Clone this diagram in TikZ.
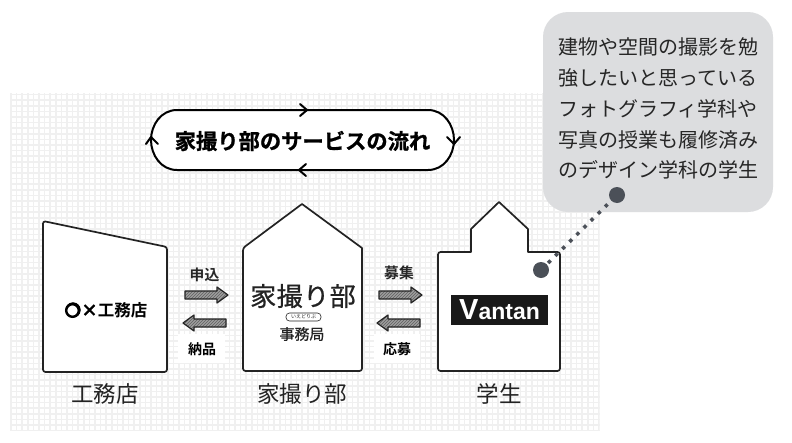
\documentclass[tikz,border=0pt]{standalone}
\usepackage{fontspec}
\setmainfont{Noto Sans CJK JP}
\newfontfamily\jpbold{Noto Sans CJK JP Bold}
\newfontfamily\jptitle[FakeBold=1]{Noto Sans CJK JP Bold}
\newfontfamily\jpheavy[FakeBold=2.5]{Noto Sans CJK JP Bold}
\newfontfamily\jpmed[FakeBold=0.7]{Noto Sans CJK JP}
\newfontfamily\lat{Liberation Sans}
\usetikzlibrary{arrows.meta,patterns}
\definecolor{gridc}{RGB}{240,240,240}
\definecolor{inkc}{RGB}{35,35,35}
\definecolor{bubblec}{RGB}{220,221,223}
\definecolor{dotc}{RGB}{75,80,88}
\definecolor{hatchc}{RGB}{95,95,95}
\tikzset{
  x=1pt,y=-1pt,
  bldg/.style={draw=inkc,fill=white,line width=1.7pt,line join=round},
  lbl/.style={font=\fontsize{22.5}{22.5}\selectfont,text=inkc,inner sep=0pt},
  small/.style={font=\jpbold\fontsize{14}{14}\selectfont,text=black,inner sep=0pt},
  smalltop/.style={font=\jpbold\fontsize{14.8}{14.8}\selectfont,text=black!85,inner sep=0pt},
  flow/.style={draw=inkc,line width=1.2pt,line join=round,preaction={fill=black!38},pattern=north east lines,pattern color=hatchc},
  loopln/.style={draw=black,line width=2pt},
  tick/.style={draw=black,line width=2pt,line cap=round,line join=round},
}
\begin{document}
\begin{tikzpicture}
\useasboundingbox (0,0) rectangle (792,442);
\fill[white] (0,0) rectangle (792,442);
% grid
\begin{scope}
\clip (10,93) rectangle (599.5,430.5);
\foreach \i in {0,...,106} \draw[gridc,line width=1.6pt] ({11+5.6*\i},93) -- ({11+5.6*\i},431);
\foreach \i in {0,...,61} \draw[gridc,line width=1.6pt] (10,{94.5+5.6*\i}) -- (600,{94.5+5.6*\i});
\end{scope}
% title loop
\coordinate (lt) at (177,110);
\coordinate (rt) at (428,110);
\coordinate (rb) at (428,170);
\coordinate (lb) at (177,170);
\draw[loopln,fill=white] (lt) -- (rt) .. controls (444,110) and (454,125) .. (454,140) .. controls (454,155) and (444,170) .. (rb) -- (lb) .. controls (161,170) and (151,155) .. (151,140) .. controls (151,125) and (161,110) .. (lt) -- cycle;
\draw[tick] (300,104) -- (307,110) -- (300,116);
\draw[tick] (306,164) -- (299,170) -- (306,176);
\draw[tick] (447,137) -- (454,144) -- (460,137);
\draw[tick] (146,144) -- (151,137) -- (158,144);
\node[font=\jptitle\fontsize{21.3}{21.3}\selectfont,inner sep=0pt,text=black] (title) at (302.5,141) {家撮り部のサービスの流れ};
% buildings
\path[bldg,rounded corners=2.5pt] (43,221) -- (167,247) -- (167,372) -- (43,372) -- cycle;
\node (koumu) at (106,310) [inner sep=0pt,font=\jpheavy\fontsize{16.5}{16.5}\selectfont] {○×{\jpbold 工務店}};
\coordinate (ring) at (72.5,310.5);
\draw[black,line width=2.4pt] (ring) circle (6.3);
\node[lbl] (l1) at (105,394) {工務店};
\path[bldg] (302,204) -- (362,248) [rounded corners=2.5pt] -- (362,371) -- (243,371) -- (243,248) [sharp corners] -- cycle;
\node[inner sep=0pt,font=\jpmed\fontsize{26}{26}\selectfont,text=inkc] (ie) at (303,296) {家\hspace{0.5pt}撮\hspace{0.5pt}り\hspace{0.5pt}部};
\draw[inkc,line width=.6pt,rounded corners=3.5pt] (286,313) rectangle (321,321);
\node[inner sep=0pt,font=\fontsize{5}{5}\selectfont,text=inkc] (iedo) at (303.5,317) {いえどりぶ};
\node[inner sep=0pt,font=\jpmed\fontsize{15}{15}\selectfont,text=inkc] (jimu) at (302,334) {事務局};
\node[lbl] (l2) at (302,394) {家撮り部};
\path[bldg] (499,202) -- (528,229) -- (528,252) [rounded corners=2.5pt] -- (560,252) -- (560,371) -- (438,371) -- (438,252) [sharp corners] -- (471,252) -- (471,229) -- cycle;
\node[fill=black!90,text=white,inner sep=0pt,minimum width=97pt,minimum height=30pt] (van) at (499.5,310) {\lat\bfseries{\fontsize{29}{29}\selectfont V}\fontsize{23}{23}\selectfont antan};
\node[lbl] (l3) at (499,394) {学生};
% flow arrows
\foreach \dx in {0,194}{
\path[flow] ({185+\dx},291) -- ({217+\dx},291) -- ({217+\dx},287) -- ({228+\dx},295) -- ({217+\dx},303) -- ({217+\dx},299) -- ({185+\dx},299) -- cycle;
\path[flow] ({226+\dx},319) -- ({194+\dx},319) -- ({194+\dx},315) -- ({183+\dx},323) -- ({194+\dx},331) -- ({194+\dx},327) -- ({226+\dx},327) -- cycle;
}
\node[smalltop] (a1) at (204.5,275) {申込};
\fill[white] (178,334) rectangle (225,363);
\node[small] (a2) at (202,349) {納品};
\node[smalltop] (a3) at (399,273) {募集};
\fill[white] (374,334) rectangle (420,363);
\node[small] (a4) at (397,349) {応募};
% bubble
\fill[bubblec,rounded corners=25pt] (543,12) rectangle (773,212);
\coordinate (dota) at (541,270);
\coordinate (dotb) at (617,195);
\draw[dotc,line width=3.5pt,dash pattern=on 3.5pt off 6.5pt] (dota) -- (dotb);
\fill[dotc] (dota) circle (8);
\fill[dotc] (dotb) circle (8);
\node[inner sep=0pt,align=center,font=\fontsize{20}{30.9}\selectfont,text=black!85] (bub) at (658,108.5) {建物や空間の撮影を勉\\強したいと思っている\\フォトグラフィ学科や\\写真の授業も履修済み\\のデザイン学科の学生};
\end{tikzpicture}
\end{document}
